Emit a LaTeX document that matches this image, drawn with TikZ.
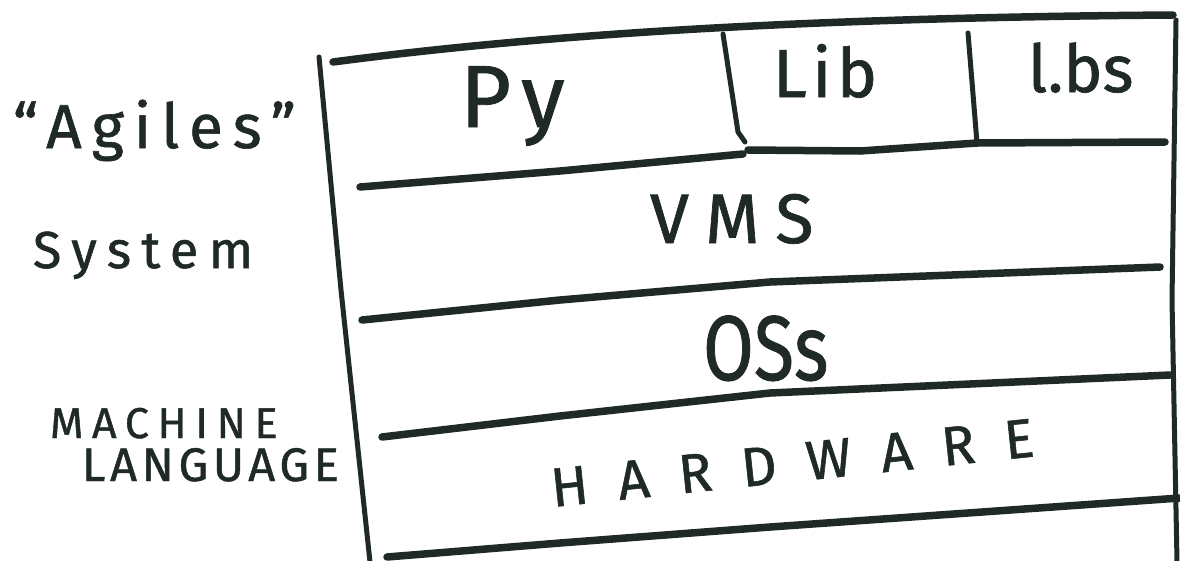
\documentclass[tikz,border=0pt]{standalone}
\usepackage{fontspec}
\setmainfont{Fira Sans}
\definecolor{ink}{HTML}{1F2A28}
\tikzset{
  rule/.style={draw=ink, line width=7.5pt, line cap=round, line join=round},
  wall/.style={draw=ink, line width=5pt, line cap=round, line join=round},
  hand/.style={text=ink, inner sep=0pt, outer sep=0pt, anchor=base west},
}
\newcommand{\hw}[2]{\fontsize{#1}{#1}\selectfont\addfontfeatures{LetterSpace=#2,FakeBold=1}}

\begin{document}
\begin{tikzpicture}[x=1pt,y=-1pt]
\useasboundingbox[fill=white] (0,0) rectangle (1180,560);

% frame verticals
\coordinate (lt) at (319,57);
\coordinate (lm) at (341,290);
\coordinate (lb) at (370,562);
\coordinate (rt) at (1176,20);
\coordinate (rm) at (1172,300);
\coordinate (rb) at (1177,562);
\draw[wall] (lt) -- (lm) -- (lb);
\draw[wall] (rt) -- (rm) -- (rb);

% top line
\coordinate (t0) at (333,62);
\coordinate (t4) at (1173,15);
\draw[rule] (t0) .. controls (500,40) and (750,18) .. (t4);

% dividers in top row
\coordinate (d1a) at (723,34);
\coordinate (d1b) at (738,132);
\coordinate (d1c) at (745,142);
\draw[wall] (d1a) -- (d1b) -- (d1c);
\coordinate (d2a) at (968,33);
\coordinate (d2b) at (977,143);
\draw[wall] (d2a) -- (d2b);

% line under top row
\coordinate (a0) at (360,187);
\coordinate (a1) at (560,171);
\coordinate (a2) at (743,154);
\coordinate (b0) at (748,150);
\coordinate (b1) at (860,151);
\coordinate (b2) at (1165,142);
\draw[rule] (a0) -- (a1) -- (a2);
\draw[rule] (b0) -- (b1) -- (d2b) -- (b2);

% line under VMS
\coordinate (c0) at (362,320);
\coordinate (c1) at (560,300);
\coordinate (c2) at (770,282);
\coordinate (c3) at (1160,267);
\draw[rule] (c0) -- (c1) -- (c2) -- (c3);

% line under OSs
\coordinate (e0) at (382,437);
\coordinate (e1) at (560,416);
\coordinate (e2) at (770,393);
\coordinate (e3) at (1170,375);
\draw[rule] (e0) -- (e1) -- (e2) -- (e3);

% line under HARDWARE
\coordinate (f0) at (387,557);
\coordinate (f1) at (560,543);
\coordinate (f2) at (770,527);
\coordinate (f3) at (1180,498);
\draw[rule] (f0) -- (f1) -- (f2) -- (f3);

% layer texts
\node[hand, font={\hw{88}{12}}] (py) at (460,127) {Py};
\node[hand, font={\hw{68}{8}}] (lib) at (773,97) {Lib};
\node[hand, font={\hw{66}{0}}] (libs) at (1028,92) {l.bs};
\node[hand, font={\hw{70}{24}}] (vms) at (650,243) {VMS};
\node[hand, font={\hw{92}{0}}, xscale=0.8] (oss) at (703,380) {OSs};
\node[hand, font={\hw{55}{54}}, rotate=6] (hw) at (553,507) {HARDWARE};

% side labels
\node[hand, font={\hw{62}{16}}] (agiles) at (13,148) {“Agiles”};
\node[hand, font={\hw{52}{20}}] (system) at (33,268) {System};
\node[hand, font={\hw{43}{20}}] (machine) at (50,438) {MACHINE};
\node[hand, font={\hw{47}{10}}] (language) at (82,481) {LANGUAGE};
\end{tikzpicture}
\end{document}
